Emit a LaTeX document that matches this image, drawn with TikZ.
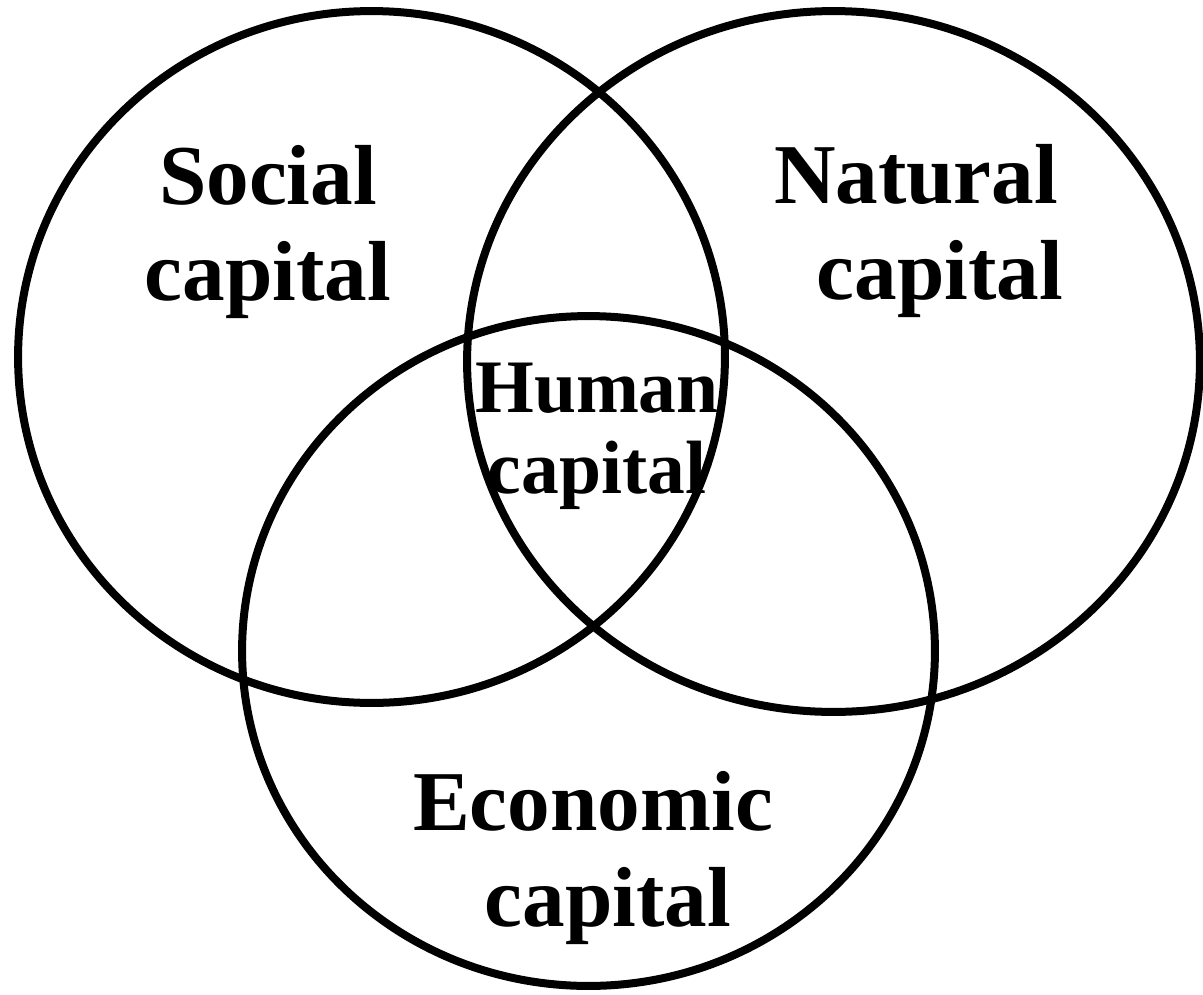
\documentclass[tikz,border=0pt]{standalone}
\usepackage{fontspec}
\setmainfont{Liberation Serif}
\tikzset{
    capset/.style={draw=black, line width=0.16cm},
    biglabel/.style={align=center, font=\bfseries\fontsize{48.5}{55}\selectfont},
    smalllabel/.style={align=center, font=\bfseries\fontsize{43}{46}\selectfont}
}
\begin{document}
\begin{tikzpicture}[x=0.02cm, y=-0.02cm]
    \useasboundingbox (0,0) rectangle (1203,994);

    \draw[capset] (371.5,357)   ellipse [x radius=7.07cm, y radius=6.92cm];
    \draw[capset] (833.5,361.5) ellipse [x radius=7.33cm, y radius=7.01cm];
    \draw[capset] (588.5,651)   ellipse [x radius=6.93cm, y radius=6.70cm];

    \node[biglabel]   at (268, 232)   (social)   {Social\\capital};
    \node[biglabel]   at (916, 231)   (natural)  {Natural\\\hspace*{0.95cm}capital};
    \node[biglabel]   at (593, 858)   (economic) {Economic\\\hspace*{0.6cm}capital};
    \node[smalllabel] at (597, 436)   (human)    {Human\\capital};
\end{tikzpicture}
\end{document}
